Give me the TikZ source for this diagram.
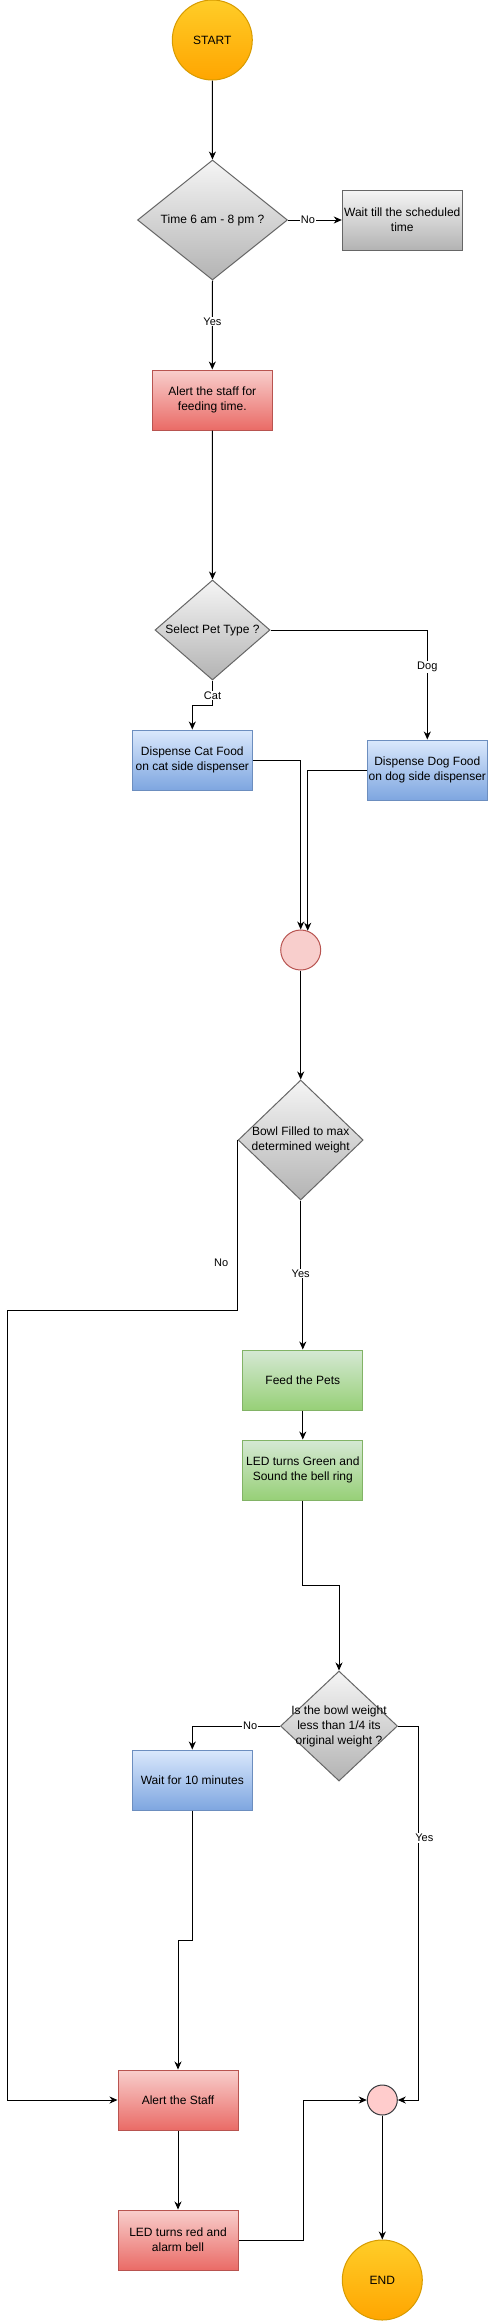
\documentclass[tikz,border=0pt]{standalone}
\usepackage{fontspec}
\setmainfont{Liberation Sans}
\usetikzlibrary{shapes.geometric,arrows.meta}

\definecolor{startfill}{HTML}{FFCD28}
\definecolor{startshade}{HTML}{FFA500}
\definecolor{startline}{HTML}{D79B00}
\definecolor{greyfill}{HTML}{F5F5F5}
\definecolor{greyshade}{HTML}{B3B3B3}
\definecolor{greyline}{HTML}{666666}
\definecolor{redfill}{HTML}{F8CECC}
\definecolor{redshade}{HTML}{EA6B66}
\definecolor{redline}{HTML}{B85450}
\definecolor{bluefill}{HTML}{DAE8FC}
\definecolor{blueshade}{HTML}{7EA6E0}
\definecolor{blueline}{HTML}{6C8EBF}
\definecolor{greenfill}{HTML}{D5E8D4}
\definecolor{greenshade}{HTML}{97D077}
\definecolor{greenline}{HTML}{82B366}
\definecolor{joinfill}{HTML}{FFCCCC}
\definecolor{joinline}{HTML}{36393D}

\tikzset{
  txt/.style={font=\fontsize{12}{15}\selectfont, align=center, inner sep=0pt},
  terminal/.style={txt, circle, draw=startline, top color=startfill, bottom color=startshade, minimum size=80pt},
  process/.style={txt, rectangle, draw=#1line, top color=#1fill, bottom color=#1shade, minimum width=120pt, minimum height=60pt},
  decision/.style={diamond, draw=greyline, top color=greyfill, bottom color=greyshade, inner sep=0pt, label={[txt]center:{#1}}},
  join/.style={circle, draw=#1line, fill=#1fill, inner sep=0pt},
  flow/.style={-{Stealth[length=8pt,width=7pt,inset=2.5pt]}},
  lbl/.style={font=\fontsize{11}{13}\selectfont, fill=white, inner sep=1pt},
}

\begin{document}
\begin{tikzpicture}[x=1pt, y=-1pt, line width=1pt]
  \path[use as bounding box, fill=white] (0,0) rectangle (488,2321);

  % nodes
  \node[terminal] (start) at (212.3,40) {START};
  \node[decision={Time 6 am - 8 pm ?}, minimum width=150pt, minimum height=120pt] (timechk) at (212.5,220) {};
  \node[process=grey] (wait) at (402.3,220) {Wait till the scheduled\\time};
  \node[process=red] (alert) at (212.3,400) {Alert the staff for\\feeding time.};
  \node[decision={Select Pet Type ?}, minimum width=115pt, minimum height=100pt] (pettype) at (212.5,630) {};
  \node[process=blue] (cat) at (192.3,760) {Dispense Cat Food\\on cat side dispenser};
  \node[process=blue] (dog) at (427.3,770) {Dispense Dog Food\\on dog side dispenser};
  \node[join=red, minimum size=40pt] (merge1) at (300.7,950) {};
  \node[decision={Bowl Filled to max\\determined weight}, minimum width=125pt, minimum height=120pt] (bowl) at (300.7,1140) {};
  \node[process=green] (feed) at (302.8,1380) {Feed the Pets};
  \node[process=green] (ledg) at (302.8,1470) {LED turns Green and\\Sound the bell ring};
  \node[decision={Is the bowl weight\\less than 1/4 its\\original weight ?}, minimum width=117pt, minimum height=110pt] (weight) at (339,1726) {};
  \node[process=blue] (wait10) at (192.3,1780) {Wait for 10 minutes};
  \node[process=red] (alerts) at (178,2100) {Alert the Staff};
  \node[process=red] (ledr) at (178,2240) {LED turns red and\\alarm bell};
  \node[join=join, minimum size=30pt] (merge2) at (382.3,2100) {};
  \node[terminal] (end) at (382.3,2280) {END};
  \coordinate (noleft) at (7.3,1310.2);

  % connectors
  \draw[flow] (start) -- (timechk);
  \draw[flow] (timechk.east) -- node[lbl,pos=0.37]{No} (wait.west);
  \draw[flow] (timechk.south) -- node[lbl,pos=0.46]{Yes} (alert.north);
  \draw[flow] (alert.south) -- (pettype.north);
  \draw[flow] (pettype.south) -- node[lbl,pos=0.6]{Cat} ++(0,25) -| (cat.north);
  \draw[flow] (pettype.east) -| node[lbl,pos=0.67]{Dog} (dog.north);
  \draw[flow] (cat.east) -| (merge1);
  \draw[flow] (dog.west) -| (merge1.70);
  \draw[flow] (merge1.south) -- (bowl.north);
  \draw[flow] (bowl.west) |- node[lbl,fill=none,pos=0.36,left=8pt]{No} (noleft) |- (alerts.west);
  \draw[flow] (bowl.south) -- node[lbl,pos=1]{Yes} ++(0,73) -| (feed.north);
  \draw[flow] (feed.south) -- (ledg.north);
  \draw[flow] (ledg.south) -- ++(0,85) -| (weight.north);
  \draw[flow] (weight.west) -| node[lbl,pos=0.17]{No} (wait10.north);
  \draw[flow] (weight.east) -- ++(20.3,0) |- node[lbl,pos=0.15,xshift=6pt]{Yes} (merge2.east);
  \draw[flow] (wait10.south) -- ++(0,130) -| (alerts.north);
  \draw[flow] (alerts.south) -- (ledr.north);
  \draw[flow] (ledr.east) -- ++(64.7,0) |- (merge2.west);
  \draw[flow] (merge2.south) -- (end.north);
\end{tikzpicture}
\end{document}
